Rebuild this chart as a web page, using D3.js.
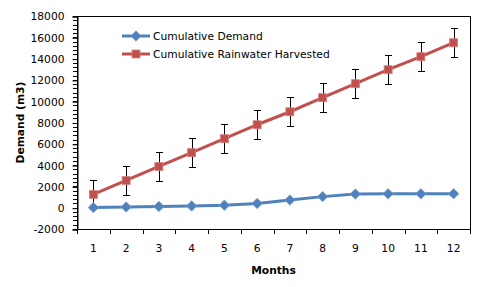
<!DOCTYPE html>
<html>
<head>
<meta charset="utf-8">
<script src="https://cdn.jsdelivr.net/npm/d3@7"></script>
<style>
  body { margin: 0; background: #fff; }
  text { font-family: "DejaVu Sans", Verdana, sans-serif; }
</style>
</head>
<body>
<div id="chart"></div>
<script>
// data
const months = [1, 2, 3, 4, 5, 6, 7, 8, 9, 10, 11, 12];
const demand = [10, 70, 120, 170, 240, 400, 720, 1040, 1280, 1300, 1300, 1310];
const harvested = [1250, 2560, 3870, 5170, 6480, 7790, 9010, 10330, 11640, 12960, 14180, 15490];
const harvestedErr = [1350, 1350, 1350, 1350, 1350, 1350, 1350, 1350, 1350, 1350, 1350, 1350];
const yTicks = [-2000, 0, 2000, 4000, 6000, 8000, 10000, 12000, 14000, 16000, 18000];
const seriesNames = ["Cumulative Demand", "Cumulative Rainwater Harvested"];

const width = 484, height = 287,
  margin = ({top: 16, right: 14, bottom: 58, left: 77});

const blue = "#4F81BD", red = "#C0504D";

const svg = d3.select("#chart")
  .append("svg")
  .attr("width", width)
  .attr("height", height);

let x = d3.scaleBand()
  .domain(months)
  .range([margin.left, width - margin.right]);

let y = d3.scaleLinear()
  .domain([-2000, 18000])
  .range([height - margin.bottom, margin.top]);

const cx = d => x(d) + x.bandwidth() / 2;

// plot frame
svg.append("rect")
  .attr("x", margin.left + 0.5)
  .attr("y", margin.top + 0.5)
  .attr("width", width - margin.right - margin.left)
  .attr("height", height - margin.bottom - margin.top)
  .attr("fill", "none")
  .attr("stroke", "#000");

// minor y ticks
const minor = d3.range(-2000, 18001, 400);
svg.append("g")
  .selectAll("line")
  .data(minor)
  .join("line")
  .attr("x1", margin.left - 4)
  .attr("x2", margin.left)
  .attr("y1", d => Math.round(y(d)) + 0.5)
  .attr("y2", d => Math.round(y(d)) + 0.5)
  .attr("stroke", "#000");

// y axis
const yAxis = svg.append("g")
  .attr("transform", `translate(${margin.left + 0.5},0.5)`)
  .call(d3.axisLeft(y).tickValues(yTicks).tickSize(5).tickPadding(8).tickFormat(d => String(d)));
yAxis.select(".domain").attr("stroke", "#000");
yAxis.selectAll("text").attr("font-size", 10.7).attr("fill", "#000").attr("font-family", "DejaVu Sans");

// x axis: ticks between categories
const xAxis = svg.append("g")
  .attr("transform", `translate(0,${height - margin.bottom + 0.5})`)
  .call(d3.axisBottom(x).tickSize(0).tickPadding(15));
xAxis.select(".domain").remove();
xAxis.selectAll("text").attr("font-size", 10.7).attr("fill", "#000").attr("font-family", "DejaVu Sans");

svg.append("g")
  .selectAll("line")
  .data(months.concat([13]))
  .join("line")
  .attr("x1", d => Math.round(d <= 12 ? x(d) : x(12) + x.bandwidth()) + 0.5)
  .attr("x2", d => Math.round(d <= 12 ? x(d) : x(12) + x.bandwidth()) + 0.5)
  .attr("y1", height - margin.bottom)
  .attr("y2", height - margin.bottom + 5)
  .attr("stroke", "#000");

// axis titles
svg.append("text")
  .attr("transform", `translate(24,${(margin.top + height - margin.bottom) / 2}) rotate(-90)`)
  .attr("text-anchor", "middle")
  .attr("font-size", 10.7)
  .attr("font-weight", "bold")
  .text("Demand (m3)");

svg.append("text")
  .attr("x", (margin.left + width - margin.right) / 2)
  .attr("y", 274)
  .attr("text-anchor", "middle")
  .attr("font-size", 10.7)
  .attr("font-weight", "bold")
  .text("Months");

const line = d3.line()
  .x((d, i) => cx(months[i]))
  .y(d => y(d));

// harvested series with error bars
const errG = svg.append("g").attr("stroke", "#000").attr("stroke-width", 1);
harvested.forEach((v, i) => {
  const px = Math.round(cx(months[i])) + 0.5;
  const top = Math.round(y(v + harvestedErr[i])) + 0.5;
  const bot = Math.round(y(v - harvestedErr[i])) + 0.5;
  errG.append("line").attr("x1", px).attr("x2", px).attr("y1", top).attr("y2", bot);
  errG.append("line").attr("x1", px - 3.5).attr("x2", px + 3.5).attr("y1", top).attr("y2", top);
  errG.append("line").attr("x1", px - 3.5).attr("x2", px + 3.5).attr("y1", bot).attr("y2", bot);
});

svg.append("path")
  .datum(harvested)
  .attr("d", line)
  .attr("fill", "none")
  .attr("stroke", red)
  .attr("stroke-width", 3);

svg.append("g")
  .selectAll("rect")
  .data(harvested)
  .join("rect")
  .attr("x", (d, i) => cx(months[i]) - 4)
  .attr("y", d => y(d) - 4)
  .attr("width", 8)
  .attr("height", 8)
  .attr("fill", red)
  .attr("stroke", "#D8807E")
  .attr("stroke-width", 0.8);

// demand series
svg.append("path")
  .datum(demand)
  .attr("d", line)
  .attr("fill", "none")
  .attr("stroke", blue)
  .attr("stroke-width", 3);

const diamond = d3.symbol().type(d3.symbolDiamond2).size(70);
svg.append("g")
  .selectAll("path")
  .data(demand)
  .join("path")
  .attr("d", diamond)
  .attr("transform", (d, i) => `translate(${cx(months[i])},${y(d)})`)
  .attr("fill", blue)
  .attr("stroke", "#7FA2CF")
  .attr("stroke-width", 0.8);

// legend
const legend = svg.append("g");
seriesNames.forEach((name, i) => {
  const ly = 36 + i * 18;
  const col = i === 0 ? blue : red;
  legend.append("line")
    .attr("x1", 122).attr("x2", 150)
    .attr("y1", ly).attr("y2", ly)
    .attr("stroke", col).attr("stroke-width", 3);
  if (i === 0) {
    legend.append("path")
      .attr("d", diamond)
      .attr("transform", `translate(136,${ly})`)
      .attr("fill", blue).attr("stroke", "#7FA2CF").attr("stroke-width", 0.8);
  } else {
    legend.append("rect")
      .attr("x", 132).attr("y", ly - 4).attr("width", 8).attr("height", 8)
      .attr("fill", red).attr("stroke", "#D8807E").attr("stroke-width", 0.8);
  }
  legend.append("text")
    .attr("x", 153).attr("y", ly + 4)
    .attr("font-size", 10.7)
    .text(name);
});
</script>
</body>
</html>
